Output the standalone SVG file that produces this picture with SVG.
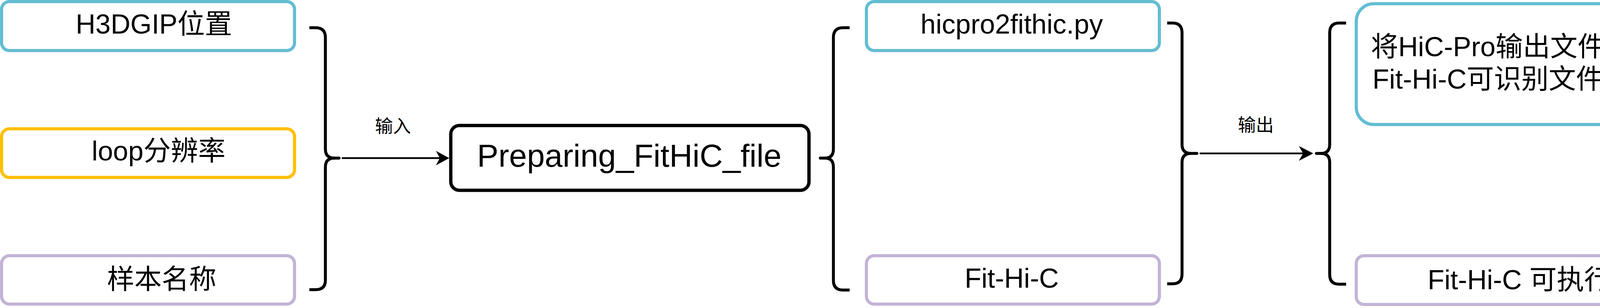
<svg xmlns="http://www.w3.org/2000/svg" width="4367" height="789" viewBox="0 0 4367 789">
  <style>
    .box { fill: #ffffff; stroke-width: 8; }
    .blue { stroke: #63BDD2; }
    .yellow { stroke: #FFC000; }
    .purple { stroke: #C2B4D6; }
    .black { stroke: #000000; stroke-width: 8.5; }
    .t { font-family: "Liberation Sans", Arial, "Noto Sans CJK SC", sans-serif; fill: #000000; text-anchor: middle; }
    .t70 { font-size: 70px; }
    .t82 { font-size: 82px; }
    .lbl { font-family: "Noto Sans CJK SC", "Liberation Sans", sans-serif; font-size: 46px; fill: #000000; text-anchor: middle; }
    .brace { fill: none; stroke: #000000; stroke-width: 7.5; stroke-linejoin: round; }
    .tip { fill: none; stroke: #000000; stroke-width: 7.5; stroke-linecap: round; }
    .arrow { fill: none; stroke: #000000; stroke-width: 4.5; }
    .head { fill: #000000; stroke: none; }
  </style>
  <rect width="4367" height="789" fill="#ffffff"/>

  <g id="node-h3dgip">
    <rect class="box blue" x="4" y="4" width="750" height="125.5" rx="20"/>
    <text class="t t70" x="394" y="86">H3DGIP位置</text>
  </g>
  <g id="node-loop">
    <rect class="box yellow" x="4" y="330" width="750" height="124.5" rx="20"/>
    <text class="t t70" x="406" y="411">loop分辨率</text>
  </g>
  <g id="node-sample">
    <rect class="box purple" x="4" y="655" width="750" height="124" rx="20"/>
    <text class="t t70" x="414" y="740">样本名称</text>
  </g>

  <g id="node-preparing">
    <rect class="box black" x="1154" y="321.5" width="917" height="166" rx="22" fill="#ffffff"/>
    <text class="t t82" x="1611" y="427">Preparing_FitHiC_file</text>
  </g>

  <g id="node-hicpro2fithic">
    <rect class="box blue" x="2218" y="4" width="750" height="125.5" rx="20"/>
    <text class="t t70" x="2590" y="86">hicpro2fithic.py</text>
  </g>
  <g id="node-fithic">
    <rect class="box purple" x="2218" y="655" width="750" height="124" rx="20"/>
    <text class="t t70" x="2590" y="737">Fit-Hi-C</text>
  </g>

  <g id="node-convert-desc">
    <rect class="box blue" x="3472" y="9.5" width="889" height="309.5" rx="45"/>
    <text class="t t70" x="3914" y="143.5">将HiC-Pro输出文件转换为</text>
    <text class="t t70" x="3914" y="227">Fit-Hi-C可识别文件的命令</text>
  </g>
  <g id="node-exec-desc">
    <rect class="box purple" x="3472" y="655" width="889" height="125" rx="20"/>
    <text class="t t70" x="3960" y="741">Fit-Hi-C 可执行命令</text>
  </g>

  <g id="connectors">
    <!-- left closing brace -->
    <path class="brace" d="M792,71 H808 Q833,71 833,96 V382 Q833,405 856,405"/>
    <path class="brace" d="M856,405 Q833,405 833,428 V718 Q833,742 808,742 H792"/>
    <path class="tip" d="M852,405 H868"/>
    <!-- input arrow -->
    <path class="arrow" d="M875,405 H1128"/>
    <path class="head" d="M1150,405 L1116,386.5 L1126,405 L1116,423.5 Z"/>
    <text class="lbl" x="1006" y="339">输入</text>

    <!-- opening brace after Preparing -->
    <path class="brace" d="M2175,71 H2158 Q2133.5,71 2133.5,96 V382 Q2133.5,405 2112,405"/>
    <path class="brace" d="M2112,405 Q2133.5,405 2133.5,428 V718 Q2133.5,743 2158,743 H2175"/>
    <path class="tip" d="M2115,405 H2100"/>

    <!-- closing brace after middle nodes -->
    <path class="brace" d="M2988,59 H3002 Q3026,59 3026,84 V370 Q3026,393 3049,393"/>
    <path class="brace" d="M3049,393 Q3026,393 3026,416 V702 Q3026,727 3002,727 H2988"/>
    <path class="tip" d="M3045,393 H3064"/>
    <!-- output arrow -->
    <path class="arrow" d="M3071,393 H3340"/>
    <path class="head" d="M3362,393 L3325,374 L3336,393 L3325,412 Z"/>
    <text class="lbl" x="3215" y="336">输出</text>

    <!-- opening brace before right nodes -->
    <path class="brace" d="M3446,59 H3428 Q3404,59 3404,84 V370 Q3404,393 3382,393"/>
    <path class="brace" d="M3382,393 Q3404,393 3404,416 V703 Q3404,728 3428,728 H3446"/>
    <path class="tip" d="M3386,393 H3370"/>
  </g>
</svg>
